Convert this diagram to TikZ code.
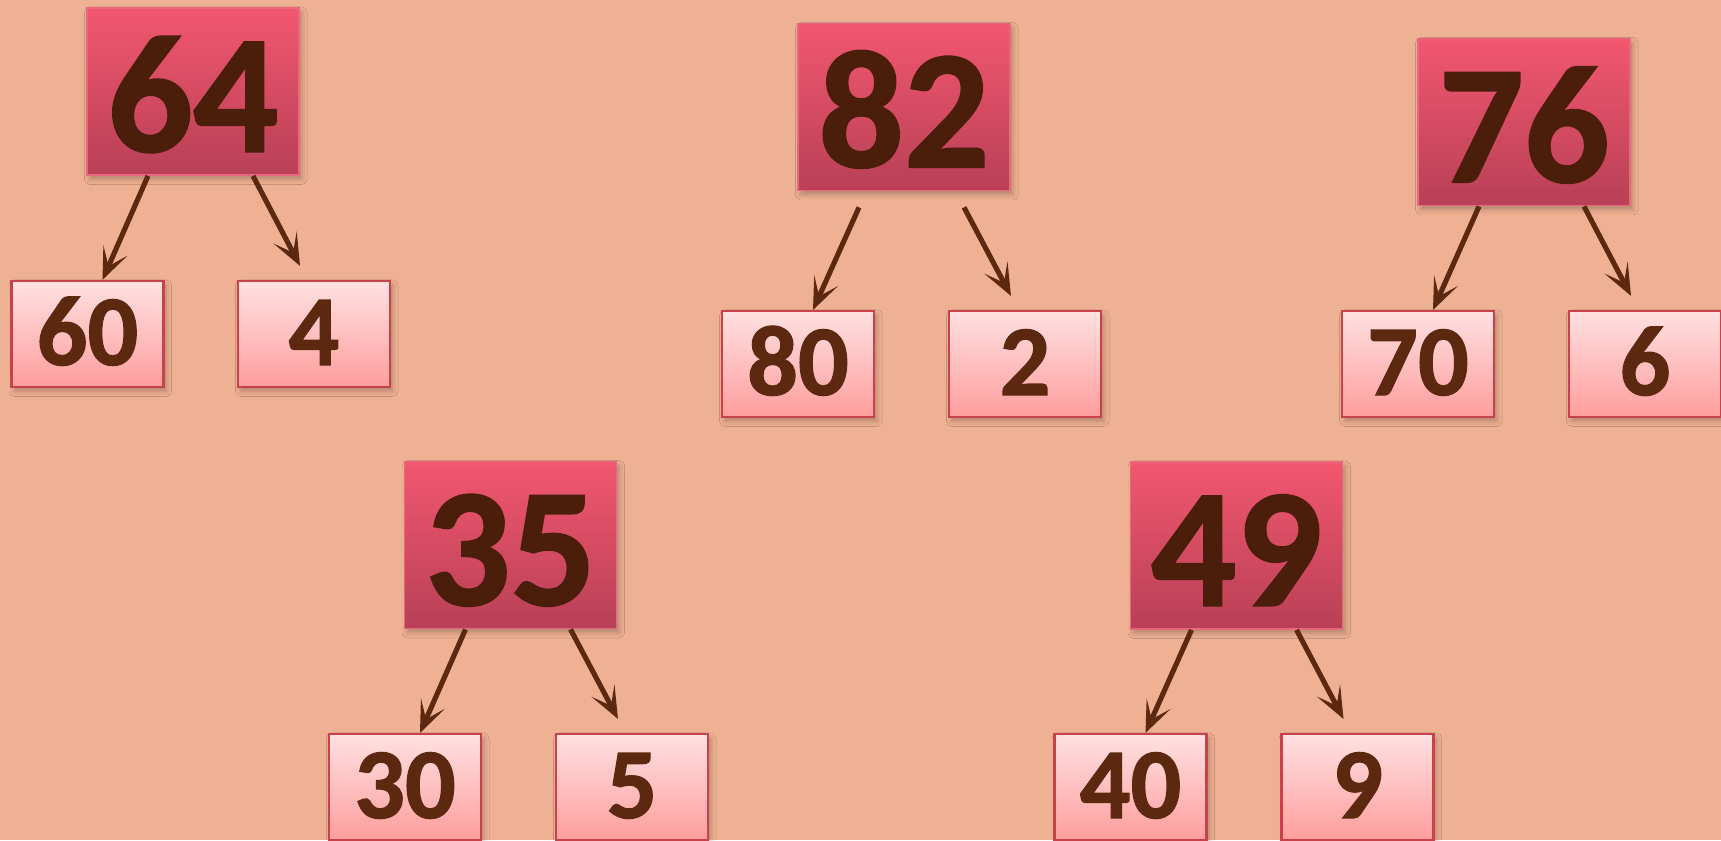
\documentclass[tikz,border=0pt]{standalone}
\usepackage{fontspec}
\setmainfont{Carlito}[BoldFeatures={FakeBold=1.2}]
\usepackage{tikz}
\usetikzlibrary{positioning,arrows.meta,calc,shadows.blur}
\definecolor{bgsalmon}{HTML}{EFB193}
\definecolor{partop}{HTML}{F2576F}
\definecolor{parbot}{HTML}{B84056}
\definecolor{parline}{HTML}{E8687E}
\definecolor{leaftop}{HTML}{FFE1E1}
\definecolor{leafbot}{HTML}{FF9D9D}
\definecolor{leafline}{HTML}{C8424C}
\definecolor{numdark}{HTML}{4A1E0A}
\definecolor{numbrown}{HTML}{5C2810}
\tikzset{
  parent/.style={draw=parline, line width=0.5pt, top color=partop, bottom color=parbot,
                 minimum width=2.12cm, minimum height=1.67cm, inner sep=0pt, text=numdark,
                 font=\fontsize{48}{50}\selectfont\bfseries, text height=1.2cm, text depth=0pt,
                 blur shadow={shadow xshift=0.8pt, shadow yshift=-1.2pt, shadow blur radius=1.5pt,
                              shadow blur steps=4, shadow opacity=25}},
  part/.style={draw=leafline, line width=0.6pt, top color=leaftop, bottom color=leafbot,
               minimum width=1.52cm, minimum height=1.06cm, inner sep=0pt, text=numbrown,
               font=\fontsize{28.5}{30}\selectfont\bfseries, text height=0.62cm, text depth=0pt,
               blur shadow={shadow xshift=0.8pt, shadow yshift=-1.2pt, shadow blur radius=1.5pt,
                            shadow blur steps=4, shadow opacity=25}},
  flow/.style={-{Stealth[length=3.2mm, width=2.6mm, inset=1.7mm]}, line width=1.45pt, draw=numbrown},
}

\begin{document}
\begin{tikzpicture}

  % Background
  \useasboundingbox (0,0) rectangle (17.21,-8.4);
  \fill[bgsalmon] (0,0) rectangle (17.21,-8.4);

  % 64 = 60 + 4
  \node[parent] (n64) at (1.93,-0.915) {64};
  \node[part]   (n60) at (0.875,-3.34) {60};
  \node[part]   (n4)  at (3.14,-3.34)  {4};
  \draw[flow] ($(n64.south)+(-0.45,0)$) -- ($(n60.north)+(0.15,0)$);
  \draw[flow] ($(n64.south)+(0.6,0)$)   -- ($(n4.north)+(-0.14,0.14)$);

  % 82 = 80 + 2
  \node[parent] (n82) at (9.04,-1.07)  {82};
  \node[part]   (n80) at (7.98,-3.64)  {80};
  \node[part]   (n2)  at (10.25,-3.64) {2};
  \draw[flow] ($(n82.south)+(-0.45,-0.16)$) -- ($(n80.north)+(0.15,0)$);
  \draw[flow] ($(n82.south)+(0.6,-0.16)$)   -- ($(n2.north)+(-0.14,0.14)$);

  % 76 = 70 + 6
  \node[parent] (n76) at (15.24,-1.22) {76};
  \node[part]   (n70) at (14.18,-3.64) {70};
  \node[part]   (n6)  at (16.45,-3.64) {6};
  \draw[flow] ($(n76.south)+(-0.45,0)$) -- ($(n70.north)+(0.15,0)$);
  \draw[flow] ($(n76.south)+(0.6,0)$)   -- ($(n6.north)+(-0.14,0.14)$);

  % 35 = 30 + 5
  \node[parent] (n35) at (5.105,-5.45) {35};
  \node[part]   (n30) at (4.05,-7.87)  {30};
  \node[part]   (n5)  at (6.32,-7.87)  {5};
  \draw[flow] ($(n35.south)+(-0.45,0)$) -- ($(n30.north)+(0.15,0)$);
  \draw[flow] ($(n35.south)+(0.6,0)$)   -- ($(n5.north)+(-0.14,0.14)$);

  % 49 = 40 + 9
  \node[parent] (n49) at (12.365,-5.455) {49};
  \node[part]   (n40) at (11.305,-7.87)  {40};
  \node[part]   (n9)  at (13.575,-7.87)  {9};
  \draw[flow] ($(n49.south)+(-0.45,0)$) -- ($(n40.north)+(0.15,0)$);
  \draw[flow] ($(n49.south)+(0.6,0)$)   -- ($(n9.north)+(-0.14,0.14)$);

\end{tikzpicture}
\end{document}
